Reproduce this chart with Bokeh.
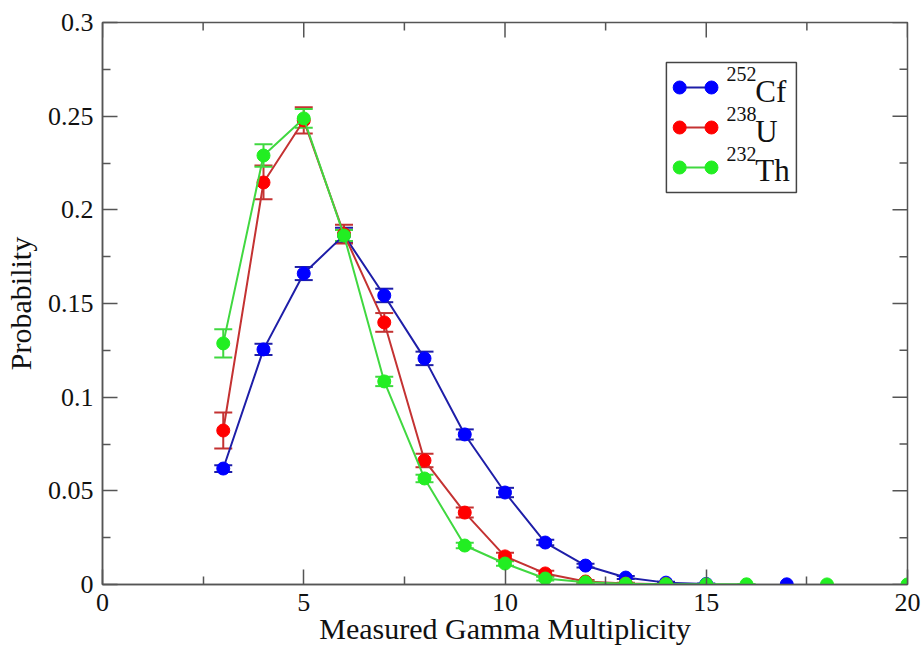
import math
from bokeh.plotting import figure
from bokeh.models import ColumnDataSource, Whisker, TeeHead, FixedTicker, Range1d, Label
from bokeh.embed import file_html
from bokeh.resources import INLINE

nan = float("nan")

# ---- data ----
multiplicity = [3, 4, 5, 6, 7, 8, 9, 10, 11, 12, 13, 14, 15, 16, 17, 18, 19, 20]
cf252 = [0.0619, 0.1255, 0.1660, 0.1865, 0.1543, 0.1207, 0.0801, 0.0491, 0.0224, 0.0101,
         0.0037, 0.0010, 0.0003, nan, 0.0001, nan, nan, nan]
cf252_err = [0.0018, 0.0030, 0.0035, 0.0040, 0.0036, 0.0036, 0.0027, 0.0025, 0.0015, 0.0010,
             0.0008, 0.0005, 0.0003, nan, nan, nan, nan, nan]
u238 = [0.0822, 0.2146, 0.2477, 0.1870, 0.1399, 0.0662, 0.0384, 0.0150, 0.0059, 0.0016,
        0.0005, 0.0002, nan, nan, nan, nan, nan, nan]
u238_err = [0.0096, 0.0090, 0.0070, 0.0050, 0.0050, 0.0036, 0.0027, 0.0020, 0.0015, 0.0008,
            0.0004, 0.0002, nan, nan, nan, nan, nan, nan]
th232 = [0.1287, 0.2290, 0.2488, 0.1863, 0.1084, 0.0566, 0.0208, 0.0112, 0.0032, 0.0012,
         0.0004, 0.0002, 0.0001, 0.0001, nan, 0.00005, nan, 0.00003]
th232_err = [0.0075, 0.0060, 0.0050, 0.0030, 0.0025, 0.0020, 0.0015, 0.0012, 0.0010, 0.0006,
             0.0004, 0.0002, 0.0001, 0.0001, nan, nan, nan, nan]

series = [
    # (superscript, symbol, values, errors, marker color, line color)
    ("252", "Cf", cf252, cf252_err, "#0000ff", "#1e1ea8"),
    ("238", "U", u238, u238_err, "#ff0000", "#c43232"),
    ("232", "Th", th232, th232_err, "#22ee22", "#40d840"),
]

x_major = [0, 5, 10, 15, 20]
x_minor = [2.5, 7.5, 12.5, 17.5]
y_major = [0, 0.05, 0.1, 0.15, 0.2, 0.25, 0.3]
y_minor = [0.025, 0.075, 0.125, 0.175, 0.225, 0.275]
X_MIN, X_MAX = 0, 20
Y_MIN, Y_MAX = 0, 0.3

FONT = "Liberation Serif"
AXIS_COLOR = "#555555"
MAJOR_LEN, MINOR_LEN = 15, 8

p = figure(width=924, height=647, output_backend="svg", toolbar_location=None,
           x_range=Range1d(X_MIN, X_MAX), y_range=Range1d(Y_MIN, Y_MAX),
           min_border_left=102, min_border_right=17, min_border_top=22, min_border_bottom=63)
p.grid.visible = False
p.outline_line_color = AXIS_COLOR
p.outline_line_width = 1.5

bottom_ax = p.below[0]
left_ax = p.left[0]
bottom_ax.ticker = FixedTicker(ticks=x_major, minor_ticks=x_minor)
left_ax.ticker = FixedTicker(ticks=y_major, minor_ticks=y_minor)
left_ax.major_label_overrides = {0: "0"}
bottom_ax.axis_label = "Measured Gamma Multiplicity"
left_ax.axis_label = "Probability"

for ax in [bottom_ax, left_ax]:
    ax.axis_line_color = AXIS_COLOR
    ax.axis_line_width = 1.5
    ax.major_tick_line_color = AXIS_COLOR
    ax.minor_tick_line_color = AXIS_COLOR
    ax.major_tick_line_width = 1.5
    ax.minor_tick_line_width = 1.5
    ax.major_tick_in = MAJOR_LEN
    ax.major_tick_out = 0
    ax.minor_tick_in = MINOR_LEN
    ax.minor_tick_out = 0
    ax.major_label_text_font = FONT
    ax.major_label_text_font_size = "26px"
    ax.major_label_text_color = "#111111"
    ax.axis_label_text_font = FONT
    ax.axis_label_text_font_size = "30px"
    ax.axis_label_text_font_style = "normal"
    ax.axis_label_text_color = "#111111"
bottom_ax.major_label_standoff = 9
bottom_ax.axis_label_standoff = -2
left_ax.major_label_standoff = 9
left_ax.axis_label_standoff = 8
left_ax.major_label_orientation = "horizontal"

# inward ticks on the top and right frame edges
for ticks, length in [(x_major, MAJOR_LEN), (x_minor, MINOR_LEN)]:
    p.ray(x=ticks, y=[Y_MAX] * len(ticks), length=length, length_units="screen",
          angle=-math.pi / 2, line_color=AXIS_COLOR, line_width=1.5)
for ticks, length in [(y_major, MAJOR_LEN), (y_minor, MINOR_LEN)]:
    p.ray(x=[X_MAX] * len(ticks), y=ticks, length=length, length_units="screen",
          angle=math.pi, line_color=AXIS_COLOR, line_width=1.5)

for sup, sym, vals, errs, mcol, lcol in series:
    src = ColumnDataSource(dict(x=multiplicity, y=vals))
    p.line("x", "y", source=src, line_color=lcol, line_width=2)
    wx, lo, hi = [], [], []
    for xv, yv, ev in zip(multiplicity, vals, errs):
        if not (math.isnan(yv) or math.isnan(ev)):
            wx.append(xv)
            lo.append(yv - ev)
            hi.append(yv + ev)
    wsrc = ColumnDataSource(dict(x=wx, lower=lo, upper=hi))
    w = Whisker(source=wsrc, base="x", lower="lower", upper="upper",
                line_color=lcol, line_width=2,
                upper_head=TeeHead(size=18, line_color=lcol, line_width=2),
                lower_head=TeeHead(size=18, line_color=lcol, line_width=2))
    p.add_layout(w)
    p.scatter("x", "y", source=src, size=13, fill_color=mcol, line_color=mcol)

# ---- legend (drawn by hand to allow superscripts) ----
PX = 0.3 / 562.0  # data units per screen pixel (vertical)
LEG_LEFT, LEG_RIGHT, LEG_TOP, LEG_BOTTOM = 14.01, 17.24, 0.2787, 0.2093
LEG_ROW0, LEG_ROW_STEP = 0.2653, 0.02135
LEG_SYM_X0, LEG_SYM_X1 = 14.34, 15.13
LEG_SUP_X, LEG_TXT_X = 15.50, 16.22
SUP_RAISE = 13.5 * PX
TXT_DROP = 3.5 * PX

p.quad(left=[LEG_LEFT], right=[LEG_RIGHT], top=[LEG_TOP], bottom=[LEG_BOTTOM],
       fill_color="white", line_color="#444444", line_width=1.5)
for i, (sup, sym, vals, errs, mcol, lcol) in enumerate(series):
    ry = LEG_ROW0 - i * LEG_ROW_STEP
    p.line([LEG_SYM_X0, LEG_SYM_X1], [ry, ry], line_color=lcol, line_width=2)
    p.scatter([LEG_SYM_X0, LEG_SYM_X1], [ry, ry], size=13, fill_color=mcol, line_color=mcol)
    p.add_layout(Label(x=LEG_SUP_X, y=ry + SUP_RAISE, text=sup, text_font=FONT,
                       text_font_size="20px", text_baseline="alphabetic", text_align="left",
                       text_color="#111111"))
    p.add_layout(Label(x=LEG_TXT_X, y=ry - TXT_DROP, text=sym, text_font=FONT,
                       text_font_size="31px", text_baseline="alphabetic", text_align="left",
                       text_color="#111111"))

open("out.html", "w").write(file_html(p, INLINE))
